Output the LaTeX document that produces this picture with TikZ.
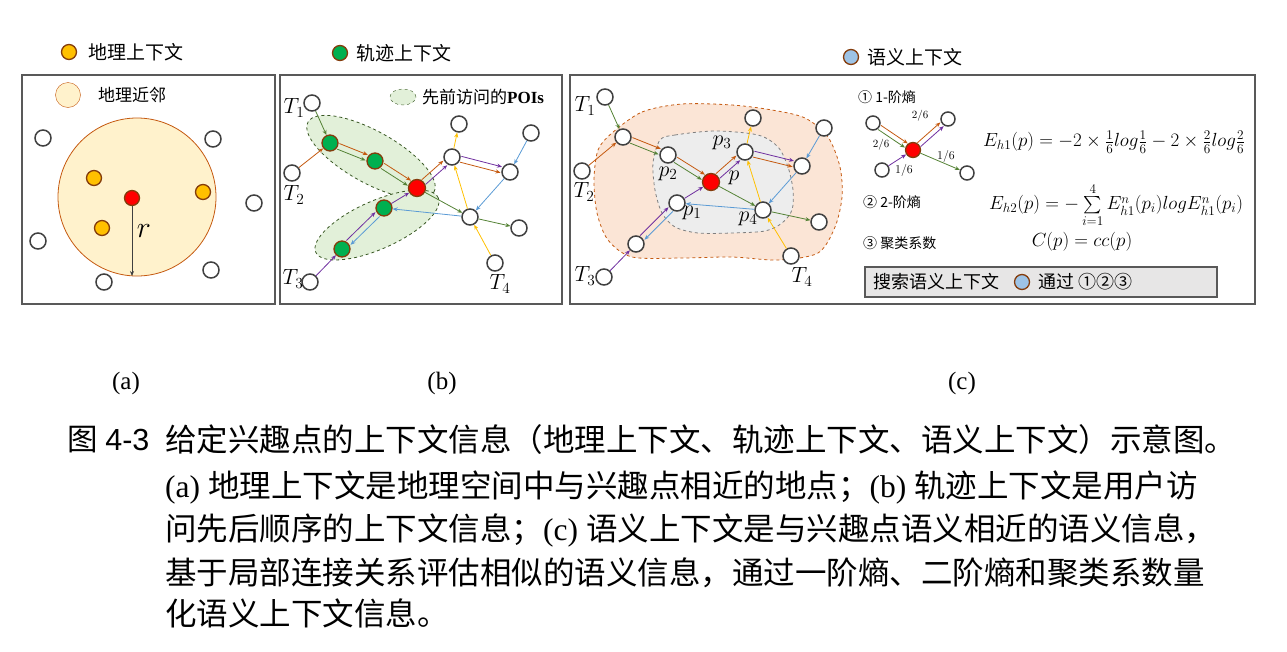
\documentclass[tikz,border=0pt]{standalone}
\usepackage{fix-cm}
\usepackage{amsmath}
\usepackage[no-math]{fontspec}
\setmainfont{Liberation Serif}
\newfontfamily\cjk{Noto Sans CJK SC}
\newfontfamily\arialfont{Liberation Sans}
\usepackage{tikz}
\usetikzlibrary{arrows.meta,calc,shapes.geometric,positioning}

\definecolor{ringgray}{HTML}{404040}
\definecolor{framegray}{HTML}{595959}
\definecolor{lgreen}{HTML}{548235}
\definecolor{lorange}{HTML}{C55A11}
\definecolor{lpurple}{HTML}{7030A0}
\definecolor{lblue}{HTML}{5B9BD5}
\definecolor{lyellow}{HTML}{FFC000}
\definecolor{nodebrown}{HTML}{843C0C}
\definecolor{geoyellow}{HTML}{FFC000}
\definecolor{trajgreen}{HTML}{00B050}
\definecolor{semblue}{HTML}{9DC3E6}
\definecolor{nearfill}{HTML}{FFF2CC}
\definecolor{ellgreen}{HTML}{E2F0D9}
\definecolor{ellborder}{HTML}{385723}
\definecolor{blobfill}{HTML}{FBE5D6}
\definecolor{corefill}{HTML}{EDEDED}
\definecolor{coreline}{HTML}{7F7F7F}
\definecolor{boxfill}{HTML}{E7E6E6}

\tikzset{
  hole/.style={circle, draw=ringgray, line width=1.5pt, fill=white, minimum size=16pt, inner sep=0pt},
  poi/.style={circle, draw=nodebrown, line width=1.3pt, fill=red, minimum size=16pt, inner sep=0pt},
  geo/.style={poi, fill=geoyellow, minimum size=15pt},
  traj/.style={poi, fill=trajgreen},
  sem/.style={poi, fill=semblue, minimum size=15pt},
  link/.style={-{Stealth[length=5pt,width=4pt]}, line width=0.8pt},
  gl/.style={link, lgreen}, ol/.style={link, lorange}, pl/.style={link, lpurple},
  bl/.style={link, lblue}, yl/.style={link, lyellow},
  cut/.style={shorten <=9pt, shorten >=9pt},
  frame/.style={draw=framegray, line width=1.5pt},
  lab/.style={font=\cjk\fontsize{19}{22}\selectfont, inner sep=0pt, anchor=west},
  tlab/.style={font=\fontsize{22}{24}\selectfont, inner sep=0pt},
  smalltxt/.style={font=\cjk\fontsize{14}{16}\selectfont, inner sep=0pt, anchor=west},
  fractxt/.style={font=\fontsize{12}{14}\selectfont, inner sep=0pt},
  formula/.style={font=\fontsize{19}{22}\selectfont, inner sep=0pt},
  captxt/.style={font=\fontsize{31.5}{34}\selectfont, inner sep=0pt, anchor=west}
}
% two arrows side by side between the same nodes
\newcommand\sidearrow[4]{\draw[#3] ($(#1)!#4!90:(#2)$) -- ($(#2)!#4!-90:(#1)$);}

\begin{document}
\begin{tikzpicture}[x=1pt,y=-1pt]
\useasboundingbox (0,0) rectangle (1287,651);

% (a) geographic context
\draw[frame] (22,75) rectangle (275,304);
\node[geo] (geokey) at (69,52) {};
\node[lab] (geotxt) at (88,52) {地理上下文};
\node[circle, draw=lorange, fill=nearfill, minimum size=25pt, inner sep=0pt] (nearkey) at (68,95) {};
\node[lab, font=\cjk\fontsize{17}{20}\selectfont] (neartxt) at (98,95) {地理近邻};
\draw[lorange, fill=nearfill, line width=0.8pt] (137,197) circle (79pt);
\foreach \x/\y [count=\i] in {94/178, 203/192, 102/228}
  \node[geo] (ga\i) at (\x,\y) {};
\foreach \x/\y [count=\i] in {43/138, 213/139, 254/203, 38/241, 211/270, 104/282}
  \node[hole] (ha\i) at (\x,\y) {};
\node[poi, minimum size=15pt] (pa) at (132,198) {};
\coordinate (rim) at (132,276);
\draw[link, ringgray] (pa) -- (rim);
\node[tlab, font=\fontsize{30}{32}\selectfont] (rlab) at (144,231) {$r$};

% (b) trajectory context
\draw[frame] (280,75) rectangle (562,304);
\node[traj, minimum size=15pt] (trajkey) at (340,53) {};
\node[lab] (trajtxt) at (356,53) {轨迹上下文};
\node[ellipse, draw=ellborder, dashed, line width=0.8pt, fill=ellgreen, rotate=-29,
      minimum width=144pt, minimum height=52pt] (ell1) at (371,157) {};
\node[ellipse, draw=ellborder, dashed, line width=0.8pt, fill=ellgreen, rotate=24,
      minimum width=134pt, minimum height=48pt] (ell2) at (377,225) {};
\node[ellipse, draw=ellborder, dashed, fill=ellgreen, minimum width=26pt, minimum height=16pt] (ellkey) at (403,97) {};
\node[lab, font=\cjk\fontsize{17}{20}\selectfont] (elltxt) at (422,97) {先前访问的{\rmfamily\bfseries POIs}};

\node[hole] (bt1) at (312,103) {};
\node[hole] (bt2) at (292,173) {};
\node[hole] (bt3) at (310,282) {};
\node[hole] (bt4) at (495,263) {};
\node[traj] (bg1) at (330,143) {};
\node[traj] (bg2) at (375,161) {};
\node[traj] (bg3) at (384,208) {};
\node[traj] (bg4) at (342,249) {};
\node[poi, minimum size=17pt] (bp) at (417,188) {};
\node[hole] (bh1) at (452,157) {};
\node[hole] (bh2) at (459,124) {};
\node[hole] (bh3) at (531,133) {};
\node[hole] (bh4) at (510,172) {};
\node[hole] (bh5) at (470,217) {};
\node[hole] (bh6) at (519,228) {};
\node[tlab] (lbt1) at (294,108) {$T_1$};
\node[tlab] (lbt2) at (294,195) {$T_2$};
\node[tlab] (lbt3) at (293,279) {$T_3$};
\node[tlab] (lbt4) at (500,284) {$T_4$};

\draw[gl] (bt1) -- (bg1);
\draw[ol] (bt2) -- (bg1);
\sidearrow{bg1}{bg2}{ol,cut}{3pt}
\sidearrow{bg1}{bg2}{gl,cut}{-3pt}
\sidearrow{bg2}{bp}{ol,cut}{3pt}
\sidearrow{bg2}{bp}{gl,cut}{-3pt}
\sidearrow{bp}{bh1}{ol,cut}{3pt}
\sidearrow{bp}{bh1}{pl,cut}{-3pt}
\draw[pl] (bt3) -- (bg4);
\sidearrow{bg4}{bg3}{pl,cut}{3pt}
\sidearrow{bg3}{bg4}{bl,cut}{3pt}
\draw[pl] (bg3) -- (bp);
\sidearrow{bh1}{bh4}{pl,cut}{3pt}
\sidearrow{bh1}{bh4}{ol,cut}{-3pt}
\draw[yl] (bh1) -- (bh2);
\draw[bl] (bh3) -- (bh4);
\draw[bl] (bh4) -- (bh5);
\draw[bl] (bh5) -- (bg3);
\draw[gl] (bp) -- (bh5);
\draw[gl] (bh5) -- (bh6);
\draw[yl] (bt4) -- (bh5);
\draw[yl] (bh5) -- (bh1);

% (c) semantic context
\draw[frame] (570,75) rectangle (1255,304);
\node[sem] (semkey) at (851,57) {};
\node[lab] (semtxt) at (867,57) {语义上下文};
\draw[lorange, dashed, line width=0.8pt, fill=blobfill] plot[smooth cycle] coordinates {
  (612,133) (642,112) (682,104) (732,105) (772,110) (805,118) (828,137) (840,167)
  (842,197) (835,227) (818,253) (778,260) (732,257) (682,258) (632,257) (608,240)
  (597,213) (594,180) (598,150)};
\draw[coreline, dashed, line width=0.8pt, fill=corefill] plot[smooth cycle] coordinates {
  (660,140) (675,135) (715,131) (758,135) (778,147) (788,167) (793,190) (792,210)
  (782,223) (765,231) (732,233) (698,233) (675,227) (662,213) (655,190) (653,163)};

\node[hole] (ct1) at (605,97) {};
\node[hole] (ct2) at (582,171) {};
\node[hole] (ct3) at (604,277) {};
\node[hole] (ct4) at (791,256) {};
\node[hole] (ca1) at (623,137) {};
\node[hole] (cb1) at (636,244) {};
\node[hole] (cp2) at (668,155) {};
\node[hole] (cp1) at (677,203) {};
\node[poi, minimum size=17pt] (cp) at (711,182) {};
\node[hole] (cp3) at (745,152) {};
\node[hole] (cp4) at (763,210) {};
\node[hole] (ctop) at (753,118) {};
\node[hole] (ctr) at (824,128) {};
\node[hole] (cr4) at (802,166) {};
\node[hole] (cr6) at (819,222) {};
\node[tlab] (lct1) at (585,106) {$T_1$};
\node[tlab] (lct2) at (584,192) {$T_2$};
\node[tlab] (lct3) at (585,276) {$T_3$};
\node[tlab] (lct4) at (802,277) {$T_4$};
\node[tlab] (lcp2) at (668,174) {$p_2$};
\node[tlab] (lcp) at (734,178) {$p$};
\node[tlab] (lcp1) at (692,213) {$p_1$};
\node[tlab] (lcp3) at (722,143) {$p_3$};
\node[tlab] (lcp4) at (748,219) {$p_4$};

\draw[gl] (ct1) -- (ca1);
\draw[ol] (ct2) -- (ca1);
\sidearrow{ca1}{cp2}{ol,cut}{3pt}
\sidearrow{ca1}{cp2}{gl,cut}{-3pt}
\sidearrow{cp2}{cp}{ol,cut}{3pt}
\sidearrow{cp2}{cp}{gl,cut}{-3pt}
\sidearrow{cp}{cp3}{ol,cut}{3pt}
\sidearrow{cp}{cp3}{pl,cut}{-3pt}
\draw[pl] (ct3) -- (cb1);
\sidearrow{cb1}{cp1}{pl,cut}{3pt}
\sidearrow{cp1}{cb1}{bl,cut}{3pt}
\draw[pl] (cp1) -- (cp);
\sidearrow{cp3}{cr4}{pl,cut}{3pt}
\sidearrow{cp3}{cr4}{ol,cut}{-3pt}
\draw[yl] (cp3) -- (ctop);
\draw[bl] (ctr) -- (cr4);
\draw[bl] (cr4) -- (cp4);
\draw[bl] (cp4) -- (cp1);
\draw[gl] (cp) -- (cp4);
\draw[gl] (cp4) -- (cr6);
\draw[yl] (ct4) -- (cp4);
\draw[yl] (cp4) -- (cp3);

% entropy terms
\node[smalltxt] (e1txt) at (858,97) {① 1-阶熵};
\node[hole, minimum size=14pt] (m1) at (873,123) {};
\node[hole, minimum size=14pt] (m2) at (948,119) {};
\node[hole, minimum size=14pt] (m3) at (882,170) {};
\node[hole, minimum size=14pt] (m4) at (967,173) {};
\node[poi, minimum size=15pt] (mp) at (913,150) {};
\sidearrow{m1}{mp}{ol,shorten <=8pt,shorten >=8pt}{2.5pt}
\sidearrow{m1}{mp}{gl,shorten <=8pt,shorten >=8pt}{-2.5pt}
\sidearrow{mp}{m2}{ol,shorten <=8pt,shorten >=8pt}{2.5pt}
\sidearrow{mp}{m2}{pl,shorten <=8pt,shorten >=8pt}{-2.5pt}
\draw[pl] (m3) -- (mp);
\draw[gl] (mp) -- (m4);
\node[fractxt, font=\fontsize{11}{13}\selectfont] (f1) at (920,116) {$2/6$};
\node[fractxt, font=\fontsize{11}{13}\selectfont] (f2) at (881,145) {$2/6$};
\node[fractxt] (f3) at (946,156) {$1/6$};
\node[fractxt] (f4) at (904,170) {$1/6$};
\node[formula] (eh1) at (1114,142)
  {$E_{h1}(p)=-2\times\frac{1}{6}log\frac{1}{6}-2\times\frac{2}{6}log\frac{2}{6}$};
\node[smalltxt] (e2txt) at (863,202) {② 2-阶熵};
\node[formula] (eh2) at (1116,205)
  {$E_{h2}(p)=-\sum\limits_{i=1}^{4}E^{n}_{h1}(p_i)logE^{n}_{h1}(p_i)$};
\node[smalltxt] (e3txt) at (863,243) {③ 聚类系数};
\node[formula] (ccp) at (1082,242) {$C(p)=cc(p)$};

% search box
\draw[draw=framegray, line width=1.2pt, fill=boxfill] (865,267) rectangle (1217,297);
\node[lab, font=\cjk\fontsize{18}{20}\selectfont] (findtxt) at (873,282) {搜索语义上下文};
\node[sem] (findkey) at (1022,282) {};
\node[lab, font=\cjk\fontsize{18}{20}\selectfont] (viatxt) at (1038,282) {通过 ①②③};

% panel tags
\node[font=\fontsize{25}{28}\selectfont] (taga) at (126,383) {(a)};
\node[font=\fontsize{25}{28}\selectfont] (tagb) at (442,383) {(b)};
\node[font=\fontsize{25}{28}\selectfont] (tagc) at (962,383) {(c)};

% caption
\node[captxt, font=\fontsize{30.5}{34}\selectfont] (cap0) at (67,440) {{\cjk 图} {\arialfont 4-3}};
\node[captxt] (cap1) at (165,440) {\cjk 给定兴趣点的上下文信息（地理上下文、轨迹上下文、语义上下文）示意图。};
\node[captxt] (cap2) at (165,488) {(a) {\cjk 地理上下文是地理空间中与兴趣点相近的地点；}(b) {\cjk 轨迹上下文是用户访}};
\node[captxt] (cap3) at (165,530) {{\cjk 问先后顺序的上下文信息；}(c) {\cjk 语义上下文是与兴趣点语义相近的语义信息，}};
\node[captxt] (cap4) at (165,573) {\cjk 基于局部连接关系评估相似的语义信息，通过一阶熵、二阶熵和聚类系数量};
\node[captxt] (cap5) at (165,613) {\cjk 化语义上下文信息。};
\end{tikzpicture}
\end{document}
